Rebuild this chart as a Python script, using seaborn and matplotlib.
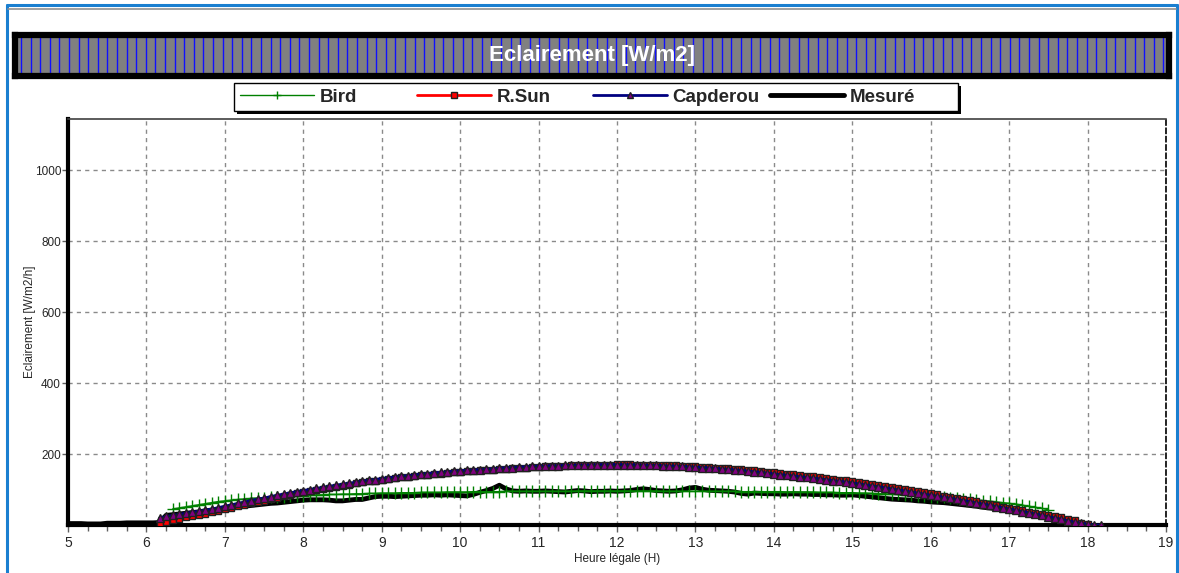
import numpy as np
import pandas as pd
import matplotlib
matplotlib.use("Agg")
import matplotlib.pyplot as plt
from matplotlib.lines import Line2D
from matplotlib.patches import Rectangle
import seaborn as sns

# ---------------- data (5-minute steps) ----------------
series_names = ["Bird", "R.Sun", "Capderou", "Mesuré"]
start_hours = {"Bird": 6 + 20/60, "R.Sun": 6 + 10/60, "Capderou": 6 + 10/60, "Mesuré": 5.0}

bird = [45, 48, 51, 54, 57, 60, 63, 66,
        68, 70, 72, 73, 75, 76, 77, 78, 79, 80, 81, 82,
        83, 84, 85, 85, 86, 86, 87, 87, 88, 88, 89, 89,
        90, 90, 90, 91, 91, 91, 92, 92, 92, 92, 93, 93,
        93, 93, 94, 94, 94, 94, 94, 95, 95, 95, 95, 95,
        95, 95, 95, 95, 95, 95, 96, 96, 96, 96, 96, 96,
        96, 96, 96, 96, 96, 96, 96, 95, 95, 95, 95, 95,
        95, 95, 95, 95, 95, 95, 95, 94, 94, 94, 94, 94,
        94, 94, 93, 93, 93, 93, 93, 92, 92, 92, 91, 91,
        91, 90, 90, 89, 88, 88, 87, 86, 85, 84, 83, 82,
        80, 79, 78, 76, 75, 73, 72, 70, 69, 67, 65, 63,
        61, 59, 56, 53, 50, 47, 43]

rsun = [2, 8, 14, 18, 22, 25, 28, 32, 36, 40,
        45, 49, 53, 57, 61, 65, 69, 73, 77, 81, 85, 89,
        93, 96, 99, 102, 105, 108, 111, 114, 117, 120, 123, 125,
        128, 130, 132, 134, 136, 138, 140, 142, 144, 145, 147, 148,
        150, 151, 153, 154, 155, 156, 158, 159, 160, 161, 162, 163,
        164, 165, 166, 166, 167, 168, 168, 169, 169, 170, 170, 170,
        171, 171, 171, 170, 170, 170, 169, 169, 168, 168, 167, 166,
        165, 164, 163, 162, 161, 160, 158, 157, 155, 154, 152, 150,
        148, 147, 145, 143, 141, 139, 137, 135, 133, 131, 128, 126,
        124, 121, 118, 116, 113, 110, 107, 104, 101, 98, 95, 92,
        89, 86, 83, 80, 77, 73, 70, 67, 63, 60, 56, 52,
        48, 45, 42, 38, 35, 31, 28, 25, 22, 18, 13, 7,
        2]

capderou = [20, 24, 27, 30, 33, 36, 39, 42, 45, 49,
            53, 57, 61, 65, 69, 73, 76, 80, 84, 87, 91, 94,
            97, 100, 103, 106, 109, 112, 115, 118, 120, 123, 126, 128,
            131, 133, 135, 137, 139, 141, 143, 145, 147, 148, 150, 151,
            153, 154, 155, 156, 157, 158, 160, 161, 162, 163, 164, 165,
            166, 166, 167, 167, 168, 168, 169, 169, 169, 170, 170, 170,
            170, 170, 170, 169, 169, 168, 168, 167, 166, 166, 165, 164,
            163, 162, 161, 160, 158, 157, 155, 154, 152, 150, 148, 146,
            144, 142, 140, 138, 136, 134, 132, 130, 128, 125, 123, 121,
            118, 116, 113, 110, 108, 105, 102, 99, 96, 93, 90, 87,
            84, 81, 78, 75, 72, 69, 66, 62, 59, 56, 52, 49,
            45, 42, 38, 35, 31, 27, 23, 20, 16, 12, 8, 5,
            2, 0, 0]

mesure = [4, 4, 4, 3, 3, 3, 5, 5, 5, 6, 6, 6,
          6, 6, 7, 27, 29, 31, 33, 35, 37, 40, 42, 44,
          47, 49, 51, 53, 55, 57, 59, 61, 62, 64, 66, 68,
          70, 71, 71, 71, 70, 68, 68, 70, 72, 72, 76, 80,
          81, 81, 80, 81, 82, 83, 84, 84, 85, 84, 85, 84,
          83, 82, 86, 92, 97, 103, 112, 102, 96, 95, 96, 95,
          95, 96, 95, 94, 93, 95, 97, 96, 94, 95, 95, 96,
          95, 96, 97, 100, 102, 100, 97, 96, 95, 96, 99, 104,
          106, 101, 98, 97, 96, 95, 93, 89, 87, 90, 89, 88,
          88, 87, 87, 88, 87, 87, 86, 86, 85, 85, 84, 84,
          85, 83, 81, 79, 77, 75, 73, 72, 71, 70, 68, 67,
          65, 64, 63, 61, 59, 57, 55, 53, 50, 48, 46, 44,
          42, 40, 38, 35, 32, 28, 24, 21, 17, 13, 8, 3,
          0]

values = {"Bird": bird, "R.Sun": rsun, "Capderou": capderou, "Mesuré": mesure}

x_ticks = list(range(5, 20))
y_ticks = [200, 400, 600, 800, 1000]
title_text = "Eclairement [W/m2]"
x_label = "Heure légale (H)"
y_label = "Eclairement [W/m2/h]"

# build long table
frames = []
for name in series_names:
    v = values[name]
    t = start_hours[name] + np.arange(len(v)) / 12.0
    frames.append(pd.DataFrame({"t": t, "v": v, "serie": name}))
df = pd.concat(frames, ignore_index=True)

# ---------------- style ----------------
sns.set_style("white")
plt.rcParams["font.family"] = ["Liberation Sans", "DejaVu Sans"]

W, H = 1179, 573
fig = plt.figure(figsize=(W / 100, H / 100), dpi=100)

def fx(px):
    return px / W

def fy(py):
    return 1 - py / H

# outer window frame
fig.add_artist(Line2D([fx(7), fx(1177)], [fy(5), fy(5)], color="#1a7fd0", lw=2.2, transform=fig.transFigure))
fig.add_artist(Line2D([fx(7), fx(7)], [fy(5), fy(573)], color="#1a7fd0", lw=2.2, transform=fig.transFigure))
fig.add_artist(Line2D([fx(1177), fx(1177)], [fy(5), fy(573)], color="#1a7fd0", lw=2.2, transform=fig.transFigure))
fig.add_artist(Line2D([fx(8), fx(1176)], [fy(9), fy(9)], color="#909090", lw=1.2, transform=fig.transFigure))

# ---------------- main axes ----------------
ax = fig.add_axes([fx(68), fy(525), fx(1166) - fx(68), fy(119) - fy(525)])

styles = {
    "Bird": dict(color="#008000", lw=1.0, marker="+", ms=8, mew=1.0, mec="#008000", zorder=3),
    "R.Sun": dict(color="#ff0000", lw=2.0, marker="s", ms=5, mew=1.0, mfc="#ff0000", mec="#202020", zorder=4),
    "Capderou": dict(color="#000080", lw=2.0, marker="^", ms=5.5, mew=1.0, mfc="#800080", mec="#202020", zorder=5),
    "Mesuré": dict(color="#000000", lw=3.5, marker=None, zorder=2.5),
}

handles = []
for name in series_names:
    sub = df[df["serie"] == name]
    st = dict(styles[name])
    z = st.pop("zorder")
    sns.lineplot(data=sub, x="t", y="v", ax=ax, estimator=None, sort=False,
                 legend=False, zorder=z, **st)
    handles.append(ax.get_lines()[-1])

ax.set_xlim(5, 19)
ax.set_ylim(0, 1144)
ax.set_xticks(x_ticks)
ax.set_xticks(np.arange(5, 19.01, 0.25), minor=True)
ax.set_yticks(y_ticks)
ax.tick_params(axis="x", which="major", direction="out", length=5, width=1, color="#606060",
               labelsize=10, pad=3)
ax.tick_params(axis="x", which="minor", direction="out", length=4, width=1, color="#606060")
ax.tick_params(axis="y", which="major", direction="out", length=4, width=1, color="#606060",
               labelsize=8.5, pad=1)
ax.tick_params(bottom=True, left=True, which="both")
ax.tick_params(axis="y", which="minor", left=False)

ax.grid(True, which="major", color="#8a8a8a", linestyle=(0, (3, 3)), lw=1.0)
ax.set_axisbelow(True)

for s in ["left", "bottom"]:
    ax.spines[s].set_color("black")
    ax.spines[s].set_linewidth(3)
ax.spines["top"].set_color("#404040")
ax.spines["top"].set_linewidth(1.2)
ax.spines["right"].set_visible(True)
ax.spines["right"].set_color("black")
ax.spines["right"].set_linestyle((0, (3, 2)))
ax.spines["right"].set_linewidth(1.2)

ax.set_xlabel(x_label, fontsize=8.5, labelpad=2)
ax.set_ylabel(y_label, fontsize=8.5, labelpad=-1)

# ---------------- title bar ----------------
tax = fig.add_axes([fx(15), fy(76), fx(1169) - fx(15), fy(35) - fy(76)])
tax.set_facecolor("#808080")
tax.set_xlim(0, 1154)
tax.set_ylim(0, 1)
tax.vlines(np.arange(6, 1154, 9.6), 0, 1, color="#1010ff", lw=1.0)
for s in tax.spines.values():
    s.set_color("black")
    s.set_linewidth(4.5)
tax.set_xticks([])
tax.set_yticks([])
tax.text(0.5, 0.5, title_text, transform=tax.transAxes, ha="center", va="center",
         color="white", fontsize=16, fontweight="bold", zorder=5)

# ---------------- legend ----------------
# frame with drop shadow
fig.add_artist(Rectangle((fx(237), fy(114)), fx(958) - fx(234), fy(83) - fy(111),
                         transform=fig.transFigure, facecolor="black", edgecolor="none", zorder=4))
fig.add_artist(Rectangle((fx(234), fy(111)), fx(958) - fx(234), fy(83) - fy(111),
                         transform=fig.transFigure, facecolor="white", edgecolor="black",
                         lw=1.0, zorder=5))
item_left_px = [240, 417, 593, 770]
for h, name, px in zip(handles, series_names, item_left_px):
    lg = fig.legend([h], [name], loc="center left",
                    bbox_to_anchor=(fx(px), fy(97)), frameon=False,
                    fontsize=13.5, handlelength=3.95, handletextpad=0.3,
                    markerscale=0.8, borderpad=0, borderaxespad=0)
    lg.set_zorder(6)
    for txt in lg.get_texts():
        txt.set_fontweight("bold")

fig.savefig("out.png", dpi=100)
